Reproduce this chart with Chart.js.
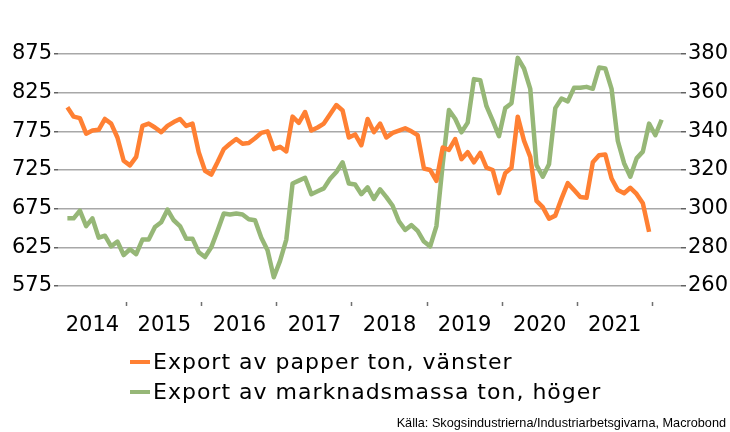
<!DOCTYPE html>
<html>
<head>
<meta charset="utf-8">
<script src="https://cdn.jsdelivr.net/npm/chart.js@4"></script>
<style>
  body { margin: 0; background: #fff; }
  #wrap { position: relative; width: 730px; height: 432px; font-family: "DejaVu Sans", sans-serif; }
  #chart { position: absolute; left: 0; top: 0; }
  .leg { position: absolute; left: 130px; font-size: 22px; letter-spacing: 1px; color: #000; line-height: 30px; white-space: nowrap; }
  .leg i { display: inline-block; width: 20px; height: 4px; vertical-align: middle; margin-right: 3px; position: relative; top: -1px; }
  #source { position: absolute; right: 4px; top: 416px; font: 12.7px "Liberation Sans", Arial, sans-serif; color: #000; white-space: nowrap; }
</style>
</head>
<body>
<div id="wrap">
  <canvas id="chart" width="730" height="432"></canvas>
  <div class="leg" style="top:347px"><i style="background:#ff8033"></i>Export av papper ton, vänster</div>
  <div class="leg" style="top:377px"><i style="background:#96b777"></i>Export av marknadsmassa ton, höger</div>
  <div id="source">Källa: Skogsindustrierna/Industriarbetsgivarna, Macrobond</div>
</div>
<script>
const yearLabels = ['2014', '2015', '2016', '2017', '2018', '2019', '2020', '2021'];
const startMonth = 2; // first point = March 2014 (months counted from Jan 2014)

// Export av papper ton (left axis), monthly from Mar 2014
const paperTon = [
  806, 794, 792, 772, 776, 777, 791, 785, 767, 737,
  731, 742, 782, 785, 780, 774, 782, 787, 791, 782,
  785, 748, 724, 719, 735, 752, 759, 765, 759, 760,
  766, 773, 775, 752, 755, 749, 794, 786, 800, 776,
  780, 785, 797, 809, 802, 767, 771, 757, 791, 774,
  785, 767, 773, 776, 779, 775, 770, 727, 725, 711,
  754, 751, 765, 739, 748, 735, 747, 728, 725, 695,
  721, 728, 794, 763, 742, 685, 677, 662, 666, 688,
  708, 699, 690, 689, 735, 744, 745, 714, 699, 695,
  702, 694, 682, 645
];

// Export av marknadsmassa ton (right axis), monthly from Mar 2014
const pulpTon = [
  295, 295, 299, 291, 295, 285, 286, 280.5, 283, 276,
  279, 276.5, 284, 284, 290.5, 293, 299.5, 294, 291, 284.5,
  284.5, 277.5, 275, 280, 288.5, 297.5, 297, 297.5, 297, 294.5,
  294, 285, 278.5, 264.5, 273, 284, 313, 314.5, 316, 307.5,
  309, 310.5, 315.5, 319, 324, 313, 312.5, 307.5, 311, 305,
  310, 306, 301.5, 293.5, 289, 291.5, 288.5, 283, 280.5, 291,
  323, 351, 346.5, 339.5, 344.5, 367, 366.5, 353, 345.5, 337.5,
  352, 354.5, 378, 372.5, 362, 322.5, 316.5, 323, 352, 357,
  355.5, 362.5, 362.5, 363, 362, 373, 372.5, 362, 335, 323.5,
  316.5, 326, 329.5, 344, 338, 346
];

const xMin = 1.0, xMax = 100.6;
const yearBounds = yearLabels.map((y, k) => 12 * (k + 1));
const yearCenters = yearLabels.map((y, k) => (Math.max(12 * k, xMin) + Math.min(12 * k + 12, xMax)) / 2);

const toPoints = arr => arr.map((v, i) => ({ x: startMonth + i + 0.5, y: v }));

Chart.defaults.font.family = '"DejaVu Sans", sans-serif';
Chart.defaults.font.size = 21;
Chart.defaults.color = '#000';

new Chart(document.querySelector('#chart'), {
  type: 'line',
  data: {
    datasets: [{
      label: 'Export av papper ton, vänster',
      data: toPoints(paperTon),
      yAxisID: 'yLeft',
      borderColor: '#ff8033',
      borderWidth: 4.5,
      pointRadius: 0,
      tension: 0,
      borderJoinStyle: 'round',
      borderCapStyle: 'butt'
    }, {
      label: 'Export av marknadsmassa ton, höger',
      data: toPoints(pulpTon),
      yAxisID: 'yRight',
      borderColor: '#96b777',
      borderWidth: 4.5,
      pointRadius: 0,
      tension: 0,
      borderJoinStyle: 'round',
      borderCapStyle: 'butt'
    }]
  },
  options: {
    responsive: false,
    animation: false,
    layout: { padding: { top: 54, left: 0, right: 0, bottom: 0 } },
    plugins: { legend: { display: false }, tooltip: { enabled: false } },
    scales: {
      x: {
        type: 'linear',
        min: xMin,
        max: xMax,
        afterBuildTicks: scale => {
          scale.ticks = [...yearBounds, ...yearCenters].sort((a, b) => a - b).map(v => ({ value: v }));
        },
        afterFit: scale => { scale.height = 432 - 286; },
        border: { display: false },
        grid: {
          drawOnChartArea: false,
          tickLength: 20,
          tickWidth: 1.5,
          tickBorderDash: [0, 16, 4, 40],
          tickColor: ctx => yearBounds.includes(ctx.tick.value) ? '#707070' : 'rgba(0,0,0,0)'
        },
        ticks: {
          autoSkip: false,
          maxRotation: 0,
          padding: 7,
          callback: value => {
            const k = yearCenters.indexOf(value);
            return k >= 0 ? yearLabels[k] : '';
          }
        }
      },
      yLeft: {
        position: 'left',
        min: 575,
        max: 875,
        afterFit: scale => { scale.width = 58; },
        border: { display: false },
        grid: { color: '#a8a8a8', lineWidth: 1.5, tickLength: 4, tickColor: '#606060' },
        ticks: {
          stepSize: 25,
          padding: 2,
          callback: v => (v - 575) % 50 === 0 ? v : ''
        }
      },
      yRight: {
        position: 'right',
        min: 260,
        max: 380,
        afterFit: scale => { scale.width = 49; },
        border: { display: false },
        grid: { drawOnChartArea: false, tickLength: 5, tickColor: '#606060', lineWidth: 1.5 },
        ticks: {
          stepSize: 10,
          padding: 2,
          callback: v => (v - 260) % 20 === 0 ? v : ''
        }
      }
    }
  }
});
</script>
</body>
</html>
